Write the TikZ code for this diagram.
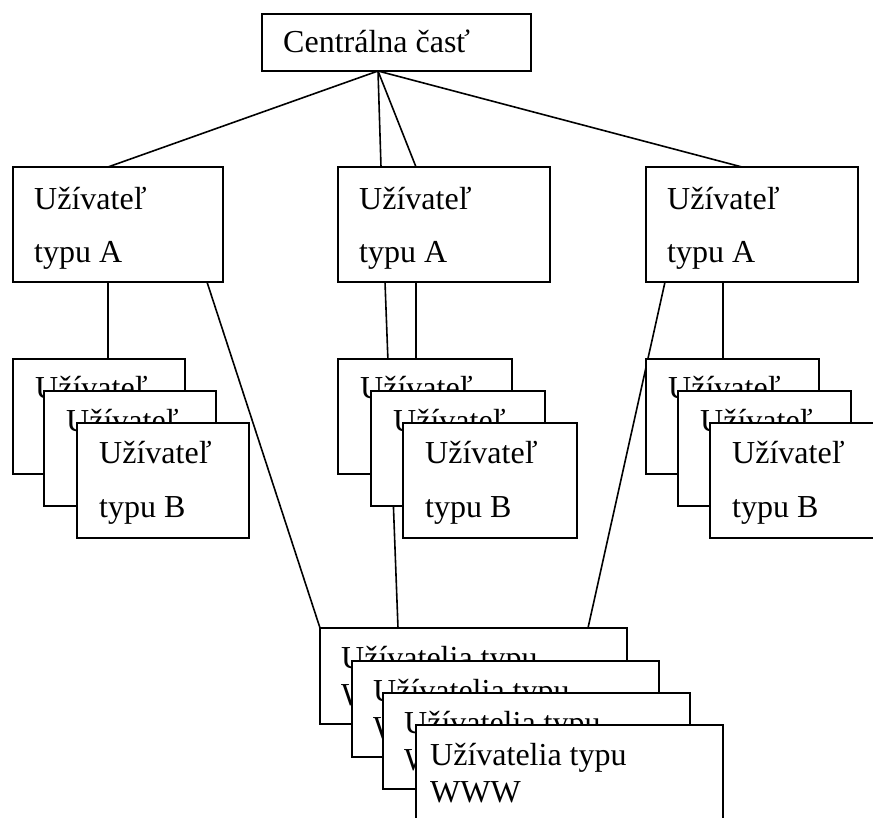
\documentclass[tikz,border=0pt]{standalone}
\usepackage{fontspec}
\setmainfont{Liberation Serif}
\begin{document}
\begin{tikzpicture}[x=1pt,y=-1pt,
  box/.style={draw=black,fill=white,line width=1.8pt,anchor=north west,inner sep=0pt,outer sep=0pt},
  lbl/.style={anchor=base west,inner sep=0pt,font=\fontsize{32}{38}\selectfont},
  conn/.style={draw=black,line width=1.6pt}]
\useasboundingbox (0,0) rectangle (873,818);
\clip (0,0) rectangle (873,818);
% connector end points
\coordinate (apex) at (378,71);
\coordinate (laTop) at (108,167);
\coordinate (maTopA) at (381,167);
\coordinate (maTopB) at (416,167);
\coordinate (raTop) at (742,167);
\coordinate (laBotV) at (108,282);
\coordinate (lbTop) at (108,359);
\coordinate (laBotD) at (207,282);
\coordinate (wTopL) at (320,628);
\coordinate (maBotD) at (385,282);
\coordinate (wTopM) at (398,628);
\coordinate (maBotV) at (416,282);
\coordinate (mbTop) at (416,359);
\coordinate (raBotD) at (665,282);
\coordinate (wTopR) at (588,628);
\coordinate (raBotV) at (723,282);
\coordinate (rbTop) at (723,359);
% connectors
\draw[conn] (apex) -- (laTop);
\draw[conn] (apex) -- (maTopA);
\draw[conn] (apex) -- (maTopB);
\draw[conn] (apex) -- (raTop);
\draw[conn] (laBotV) -- (lbTop);
\draw[conn] (laBotD) -- (wTopL);
\draw[conn] (maBotD) -- (wTopM);
\draw[conn] (maBotV) -- (mbTop);
\draw[conn] (raBotD) -- (wTopR);
\draw[conn] (raBotV) -- (rbTop);
% top box
\node[box,minimum width=269pt,minimum height=57pt] (top) at (262,14) {};
\node[lbl] (topT) at (283,53) {Centrálna časť};
% A boxes
\node[box,minimum width=210pt,minimum height=115pt] (la) at (13,167) {};
\node[lbl] (laT1) at (34,210) {Užívateľ};
\node[lbl] (laT2) at (34,263) {typu A};
\node[box,minimum width=212pt,minimum height=115pt] (ma) at (338,167) {};
\node[lbl] (maT1) at (359,210) {Užívateľ};
\node[lbl] (maT2) at (359,263) {typu A};
\node[box,minimum width=212pt,minimum height=115pt] (ra) at (646,167) {};
\node[lbl] (raT1) at (667,210) {Užívateľ};
\node[lbl] (raT2) at (667,263) {typu A};
% B stacks: hidden boxes show only their first line
\foreach \n/\x/\y/\w in {lbA/13/359/172,lbB/44/391/172,mbA/338/359/174,mbB/371/391/174,rbA/646/359/173,rbB/678/391/173}{
  \node[box,minimum width=\w pt,minimum height=115pt] (\n) at (\x,\y) {};
  \node[lbl] (\n T1) at (\x+22,\y+40) {Užívateľ};
}
\foreach \n/\x/\y/\w in {lbC/77/423/172,mbC/403/423/174,rbC/710/423/173}{
  \node[box,minimum width=\w pt,minimum height=115pt] (\n) at (\x,\y) {};
  \node[lbl] (\n T1) at (\x+22,\y+40) {Užívateľ};
  \node[lbl] (\n T2) at (\x+22,\y+94) {typu B};
}
% WWW stack
\foreach \n/\x/\y/\i in {wA/320/628/21,wB/352/661/21,wC/383/693/21,wD/416/725/14}{
  \node[box,minimum width=307pt,minimum height=96pt] (\n) at (\x,\y) {};
  \node[lbl] (\n T1) at (\x+\i,\y+40) {Užívatelia typu};
  \node[lbl] (\n T2) at (\x+\i,\y+77) {WWW};
}
\end{tikzpicture}
\end{document}
